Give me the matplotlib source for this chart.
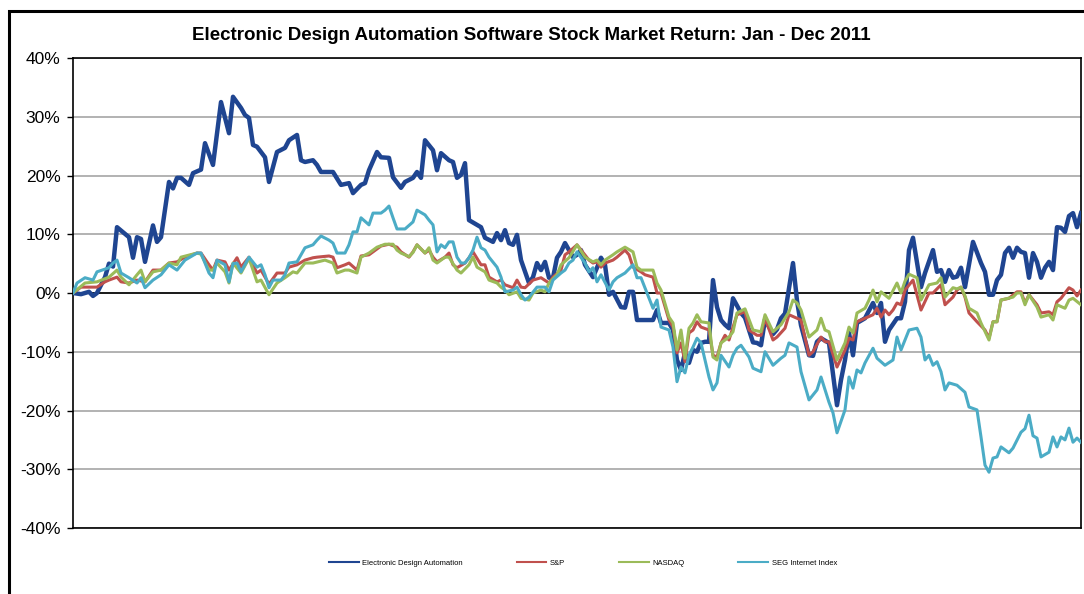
import matplotlib.pyplot as plt
from matplotlib.lines import Line2D
from matplotlib.patches import Rectangle
from matplotlib.ticker import FuncFormatter

# (trading day, % return)
eda = [(0, 0.0), (2, -0.2), (4, 0.2), (5, -0.5), (6, 0.0), (8, 2.7), (9, 5.0), (10, 4.5), (11, 11.2),
       (14, 9.5), (15, 6.0), (16, 9.5), (17, 9.2), (18, 5.3), (20, 11.5), (21, 8.7), (22, 9.5), (24, 18.9),
       (25, 17.8), (26, 19.6), (27, 19.6), (29, 18.4), (30, 20.4), (32, 21.0), (33, 25.5), (35, 21.8),
       (37, 32.5), (39, 27.2), (40, 33.4), (42, 31.5), (43, 30.3), (44, 29.8), (45, 25.2), (46, 24.9),
       (48, 23.1), (49, 18.9), (51, 24.0), (53, 24.7), (54, 26.0), (56, 26.9), (57, 22.6), (58, 22.3),
       (60, 22.6), (61, 21.8), (62, 20.6), (65, 20.6), (67, 18.4), (69, 18.7), (70, 17.0), (72, 18.4),
       (73, 18.7), (74, 20.9), (76, 24.0), (77, 23.1), (79, 23.0), (80, 19.7), (82, 17.9), (83, 18.9),
       (85, 19.6), (86, 20.6), (87, 19.6), (88, 26.0), (90, 24.3), (91, 20.9), (92, 23.8), (94, 22.6),
       (95, 22.3), (96, 19.6), (97, 20.1), (98, 22.1), (99, 12.4), (101, 11.6), (102, 11.2), (103, 9.4),
       (105, 8.7), (106, 10.2), (107, 9.0), (108, 10.7), (109, 8.5), (110, 8.2), (111, 9.9), (112, 5.6),
       (114, 1.7), (115, 2.7), (116, 5.1), (117, 3.9), (118, 5.3), (119, 2.6), (120, 2.6), (121, 6.0),
       (122, 7.0), (123, 8.5), (125, 6.1), (126, 6.5), (127, 7.3), (128, 4.8), (130, 2.7), (131, 4.3),
       (132, 6.0), (133, 4.8), (134, -0.3), (135, 0.2), (137, -2.4), (138, -2.5), (139, 0.2), (140, 0.2),
       (141, -4.6), (145, -4.6), (146, -2.9), (147, -5.1), (149, -5.1), (150, -6.3), (151, -11.4),
       (152, -13.1), (153, -10.2), (154, -11.9), (155, -9.7), (156, -10.0), (157, -8.5), (158, -8.3),
       (159, -8.3), (160, 2.2), (161, -2.4), (162, -4.6), (163, -5.4), (164, -6.0), (165, -0.9),
       (167, -3.4), (168, -4.2), (169, -6.3), (170, -8.4), (171, -8.5), (172, -8.9), (173, -4.5),
       (175, -7.0), (176, -6.2), (177, -4.3), (178, -3.5), (180, 5.1), (181, -1.3), (182, -5.5),
       (184, -10.6), (185, -10.7), (186, -8.3), (187, -7.7), (189, -8.5), (191, -19.1), (192, -14.8),
       (193, -11.4), (194, -6.8), (195, -10.6), (196, -5.1), (198, -4.3), (200, -1.7), (201, -3.4),
       (202, -1.7), (203, -8.3), (204, -6.3), (206, -4.3), (207, -4.3), (208, -1.5), (209, 7.3),
       (210, 9.4), (212, 1.0), (213, 3.4), (215, 7.3), (216, 3.6), (217, 3.9), (218, 1.9), (219, 3.9),
       (220, 2.6), (221, 2.8), (222, 4.3), (223, 1.0), (225, 8.7), (227, 5.1), (228, 3.6), (229, -0.3),
       (230, -0.3), (231, 2.2), (232, 3.1), (233, 6.8), (234, 7.7), (235, 6.0), (236, 7.7), (237, 7.0),
       (238, 6.8), (239, 2.6), (240, 6.8), (241, 5.3), (242, 2.6), (243, 4.3), (244, 5.3), (245, 3.9),
       (246, 11.2), (247, 11.1), (248, 10.4), (249, 13.1), (250, 13.6), (251, 11.2), (252, 13.6)]

sp = [(0, 0.0), (2, 1.0), (6, 1.0), (8, 1.9), (9, 2.2), (11, 2.7), (12, 1.9), (14, 1.7), (16, 2.2),
      (18, 1.9), (20, 3.9), (22, 3.9), (24, 5.1), (26, 5.3), (28, 6.1), (31, 6.8), (32, 6.8), (34, 4.8),
      (35, 3.9), (36, 5.6), (38, 5.3), (39, 3.9), (41, 6.0), (42, 4.4), (44, 6.1), (46, 3.4), (47, 3.9),
      (49, 1.5), (51, 3.4), (53, 3.4), (54, 4.4), (56, 4.8), (58, 5.6), (60, 6.0), (61, 6.1), (64, 6.3),
      (65, 6.1), (66, 4.3), (68, 4.8), (69, 5.1), (71, 3.9), (72, 6.3), (74, 6.5), (76, 7.5), (77, 8.0),
      (79, 8.3), (81, 7.8), (82, 7.0), (84, 6.1), (85, 7.0), (86, 8.2), (88, 6.8), (89, 7.3), (90, 6.1),
      (91, 5.3), (93, 6.1), (94, 6.8), (95, 4.8), (96, 4.3), (98, 5.1), (99, 6.0), (100, 7.0), (102, 4.8),
      (103, 4.8), (104, 2.7), (106, 1.9), (107, 2.2), (108, 1.4), (110, 0.9), (111, 2.2), (112, 1.0),
      (113, 0.9), (115, 2.2), (117, 2.6), (119, 1.7), (120, 2.7), (122, 3.9), (123, 6.5), (124, 7.0),
      (126, 8.2), (129, 5.6), (130, 5.1), (131, 5.3), (132, 4.4), (133, 5.1), (135, 5.6), (136, 6.1),
      (138, 7.3), (139, 6.5), (140, 4.4), (142, 3.6), (143, 3.1), (145, 2.7), (146, 0.0), (147, 0.0),
      (149, -4.6), (150, -5.8), (151, -10.2), (152, -8.5), (153, -11.7), (154, -6.8), (155, -6.3),
      (156, -4.9), (157, -5.8), (159, -6.3), (160, -10.6), (161, -10.9), (162, -8.5), (163, -7.2),
      (164, -8.0), (165, -5.8), (166, -3.7), (168, -3.2), (169, -6.3), (171, -7.2), (172, -7.2),
      (173, -4.3), (175, -8.0), (176, -7.5), (178, -6.0), (179, -3.7), (181, -4.3), (182, -4.6),
      (184, -10.6), (185, -10.0), (187, -7.5), (188, -8.3), (189, -8.3), (191, -12.6), (193, -9.7),
      (194, -7.7), (195, -8.0), (196, -4.9), (198, -4.3), (200, -3.7), (201, -2.6), (202, -4.1),
      (203, -2.9), (204, -3.7), (205, -2.9), (206, -1.7), (207, -2.0), (208, 0.5), (210, 2.2),
      (212, -2.9), (214, 0.0), (215, 0.0), (217, 1.4), (218, -2.0), (220, -0.7), (221, 0.5), (222, 1.0),
      (223, -0.7), (224, -3.4), (226, -4.9), (228, -6.3), (229, -7.7), (230, -4.9), (231, -4.9),
      (232, -1.2), (234, -0.9), (236, 0.2), (237, 0.2), (238, -1.7), (239, -0.3), (241, -2.0),
      (242, -3.4), (244, -3.2), (245, -3.7), (246, -1.5), (247, -0.9), (249, 0.9), (250, 0.5),
      (251, -0.5), (252, 0.5)]

nasdaq = [(0, 0.0), (3, 1.7), (6, 1.9), (9, 2.7), (11, 3.9), (12, 2.7), (14, 1.4), (16, 3.1), (17, 3.9),
          (18, 1.9), (20, 3.6), (22, 3.9), (24, 5.1), (26, 4.8), (27, 6.1), (31, 6.8), (32, 6.6), (34, 3.9),
          (35, 3.9), (36, 5.1), (38, 3.6), (39, 1.7), (40, 5.1), (42, 3.4), (44, 5.9), (46, 1.9), (47, 2.2),
          (49, -0.3), (51, 1.7), (53, 2.6), (55, 3.6), (56, 3.4), (58, 5.1), (60, 5.1), (63, 5.6), (65, 5.1),
          (66, 3.4), (68, 3.9), (69, 3.9), (71, 3.4), (72, 6.1), (74, 6.8), (76, 7.8), (78, 8.3), (80, 8.3),
          (81, 7.3), (82, 6.8), (84, 6.2), (85, 6.9), (86, 8.2), (88, 6.8), (89, 7.7), (90, 5.6), (91, 5.1),
          (93, 6.1), (94, 6.1), (96, 3.9), (97, 3.4), (99, 4.8), (100, 6.1), (101, 4.4), (103, 3.6),
          (104, 2.2), (106, 1.7), (107, 1.0), (108, 0.5), (109, -0.3), (111, 0.2), (112, -0.9), (114, -1.2),
          (115, 0.0), (117, 0.5), (118, 0.2), (119, 1.7), (121, 3.1), (122, 4.8), (124, 6.0), (126, 8.2),
          (128, 6.1), (130, 5.3), (131, 5.6), (132, 4.8), (133, 5.6), (135, 6.5), (136, 7.0), (138, 7.8),
          (140, 7.0), (141, 4.4), (142, 3.9), (145, 3.9), (146, 1.7), (147, 0.5), (149, -4.1), (150, -5.1),
          (151, -9.7), (152, -6.3), (153, -11.1), (154, -6.0), (155, -5.1), (156, -3.7), (157, -4.9),
          (159, -5.1), (160, -10.9), (161, -11.4), (162, -8.5), (164, -7.5), (165, -6.6), (166, -3.4),
          (168, -2.7), (170, -6.3), (172, -6.6), (173, -3.7), (175, -6.6), (177, -5.4), (179, -3.2),
          (180, -1.2), (181, -1.7), (182, -2.9), (184, -7.5), (186, -6.3), (187, -4.3), (188, -6.3),
          (189, -6.6), (191, -11.4), (193, -8.5), (194, -5.8), (195, -6.8), (196, -3.4), (198, -2.6),
          (199, -1.2), (200, 0.5), (201, -1.5), (202, 0.2), (204, -0.9), (206, 1.7), (207, 0.0), (208, 2.0),
          (209, 3.2), (211, 2.6), (212, -1.2), (214, 1.4), (216, 1.7), (217, 2.6), (218, -0.7), (220, 0.9),
          (221, 0.7), (222, 1.0), (223, -0.5), (224, -2.6), (226, -3.4), (227, -5.1), (229, -8.0),
          (230, -4.9), (231, -4.9), (232, -1.2), (235, -0.7), (236, 0.0), (237, 0.0), (238, -2.0),
          (239, -0.3), (241, -2.4), (242, -4.1), (244, -3.7), (245, -4.6), (246, -2.0), (248, -2.6),
          (249, -1.2), (250, -0.9), (252, -2.0)]

seg = [(0, 0.0), (1, 1.7), (3, 2.6), (5, 2.2), (6, 3.6), (9, 4.3), (10, 5.1), (11, 5.6), (12, 3.4), (14, 2.6),
       (16, 1.7), (17, 2.6), (18, 0.9), (20, 2.2), (22, 3.1), (24, 4.8), (26, 3.9), (28, 5.6), (31, 6.8),
       (32, 6.8), (34, 3.4), (35, 2.6), (36, 5.6), (38, 4.8), (39, 1.9), (40, 5.0), (41, 5.1), (42, 3.6),
       (44, 6.1), (46, 4.4), (47, 4.8), (48, 3.1), (49, 0.9), (50, 2.2), (52, 2.2), (53, 3.1), (54, 5.1),
       (56, 5.3), (58, 7.7), (60, 8.2), (61, 9.0), (62, 9.7), (64, 9.0), (65, 8.5), (66, 6.8), (68, 6.8),
       (69, 8.2), (70, 10.4), (71, 10.4), (72, 12.8), (74, 11.6), (75, 13.6), (77, 13.6), (78, 14.1),
       (79, 14.8), (80, 12.8), (81, 10.9), (83, 10.9), (85, 12.1), (86, 14.1), (88, 13.3), (89, 12.4),
       (90, 11.6), (91, 7.0), (92, 8.2), (93, 7.7), (94, 8.7), (95, 8.7), (96, 6.1), (97, 5.1), (98, 5.1),
       (99, 6.0), (100, 7.3), (101, 9.5), (102, 7.7), (103, 7.3), (104, 6.1), (106, 4.4), (107, 2.7),
       (108, 0.2), (110, 0.5), (111, 1.0), (112, -0.3), (113, -1.2), (114, -0.7), (116, 1.0), (117, 1.0),
       (118, 1.0), (119, 0.2), (120, 2.2), (122, 3.4), (123, 3.9), (124, 5.1), (125, 5.6), (126, 7.0),
       (128, 5.1), (129, 3.6), (130, 4.3), (131, 1.9), (132, 3.1), (134, 0.5), (135, 1.9), (136, 2.6),
       (138, 3.4), (140, 4.8), (141, 2.6), (142, 2.6), (144, -0.9), (145, -2.6), (146, -1.2), (147, -5.8),
       (149, -6.3), (150, -9.2), (151, -15.1), (152, -12.6), (153, -13.6), (154, -10.6), (155, -9.2),
       (156, -7.7), (157, -8.5), (159, -14.3), (160, -16.5), (161, -15.3), (162, -10.6), (164, -12.6),
       (165, -10.6), (166, -9.4), (167, -8.9), (169, -10.9), (170, -12.8), (172, -13.4), (173, -10.0),
       (175, -12.3), (177, -11.1), (178, -10.6), (179, -8.5), (181, -9.2), (182, -13.4), (184, -18.2),
       (186, -16.5), (187, -14.3), (189, -18.6), (190, -20.4), (191, -23.8), (193, -19.9), (194, -14.3),
       (195, -16.2), (196, -13.1), (197, -13.6), (198, -11.9), (200, -9.4), (201, -11.1), (203, -12.3),
       (205, -11.4), (206, -7.5), (207, -9.7), (209, -6.3), (211, -6.0), (212, -7.5), (213, -11.4),
       (214, -10.6), (215, -12.3), (216, -11.7), (217, -13.4), (218, -16.5), (219, -15.3), (221, -15.7),
       (223, -16.9), (224, -19.4), (226, -19.9), (227, -24.5), (228, -29.3), (229, -30.5), (230, -28.1),
       (231, -27.9), (232, -26.2), (234, -27.2), (235, -26.4), (237, -23.7), (238, -23.1), (239, -20.8),
       (240, -24.3), (241, -24.7), (242, -27.9), (244, -27.1), (245, -24.5), (246, -26.2), (247, -24.5),
       (248, -25.0), (249, -23.0), (250, -25.4), (251, -24.7), (252, -25.4)]

labels = ["Electronic Design Automation", "S&P", "NASDAQ", "SEG Internet Index"]
colors = ["#1F4591", "#C0504D", "#9BBB59", "#4BACC6"]
widths = [3.2, 2.2, 2.2, 2.2]

plt.rcParams['font.family'] = ['Liberation Sans', 'DejaVu Sans']

fig = plt.figure(figsize=(10.84, 5.94), dpi=100)
ax = fig.add_axes([73 / 1084, 66 / 594, 1008 / 1084, 470 / 594])

for data, color, lw, label in zip([eda, sp, nasdaq, seg], colors, widths, labels):
    days, rets = zip(*data)
    ax.plot(days, rets, color=color, lw=lw, label=label, solid_joinstyle='round', zorder=3)

ax.set_xlim(0, 252)
ax.set_ylim(-40, 40)
ax.set_xticks([])
ax.set_yticks(range(-40, 41, 10))
ax.yaxis.set_major_formatter(FuncFormatter(lambda v, p: f"{v:.0f}%"))
ax.tick_params(axis='y', direction='out', length=4, width=1, labelsize=12.5, pad=5)
ax.grid(axis='y', color='#a6a6a6', lw=1.2)
ax.set_axisbelow(True)
ax.axhline(0, color='black', lw=1.2, zorder=2)
for s in ax.spines.values():
    s.set_color('black')
    s.set_linewidth(1.2)

fig.text(531 / 1084, 1 - 36 / 594,
         "Electronic Design Automation Software Stock Market Return: Jan - Dec 2011",
         ha='center', va='center', fontsize=13.5, fontweight='bold')

handles = [Line2D([], [], color=c, lw=1.5) for c in colors]
fig.legend(handles, labels, loc='center', bbox_to_anchor=(583 / 1084, 1 - 563 / 594), ncol=4,
           frameon=False, fontsize=5.5, handlelength=3.9, handletextpad=0.5, columnspacing=7)

fig.add_artist(Rectangle((9 / 1084, -0.5), 2, 0.5 + 1 - 11 / 594, transform=fig.transFigure,
                         fill=False, lw=2.2, edgecolor='black'))

fig.savefig("out.png", dpi=100)
